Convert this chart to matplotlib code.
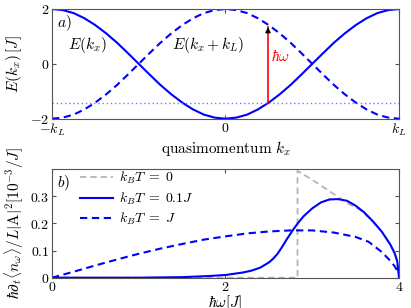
#!/usr/bin/env python3
"""
能带与吸收率示意图
上图: 两条能带 E(k_x), E(k_x + k_L)
下图: 不同温度下的吸收率
"""

import numpy as np
import matplotlib
matplotlib.use('Agg')
import matplotlib.pyplot as plt

plt.rcParams['mathtext.fontset'] = 'cm'
plt.rcParams['font.family'] = ['DejaVu Serif']
plt.rcParams['font.size'] = 10

# ---- 上图数据 (k_x 以 k_L 为单位) ----
k_band = [-1.0, -0.9375, -0.875, -0.8125, -0.75, -0.6875, -0.625, -0.5625, -0.5,
          -0.4375, -0.375, -0.3125, -0.25, -0.1875, -0.125, -0.0625, 0.0,
          0.0625, 0.125, 0.1875, 0.25, 0.3125, 0.375, 0.4375, 0.5,
          0.5625, 0.625, 0.6875, 0.75, 0.8125, 0.875, 0.9375, 1.0]
E_kx = [2.00, 1.96, 1.85, 1.66, 1.41, 1.11, 0.77, 0.39, 0.00,
        -0.39, -0.77, -1.11, -1.41, -1.66, -1.85, -1.96, -2.00,
        -1.96, -1.85, -1.66, -1.41, -1.11, -0.77, -0.39, 0.00,
        0.39, 0.77, 1.11, 1.41, 1.66, 1.85, 1.96, 2.00]
E_kx_kL = [-2.00, -1.96, -1.85, -1.66, -1.41, -1.11, -0.77, -0.39, 0.00,
           0.39, 0.77, 1.11, 1.41, 1.66, 1.85, 1.96, 2.00,
           1.96, 1.85, 1.66, 1.41, 1.11, 0.77, 0.39, 0.00,
           -0.39, -0.77, -1.11, -1.41, -1.66, -1.85, -1.96, -2.00]
fermi_level = -1.42
arrow_k = 0.245
arrow_top = 1.44

# ---- 下图数据 ----
w_T0 = [0.0, 2.83, 2.83, 3.0, 3.2, 3.4, 3.55, 3.7, 3.8, 3.9, 3.95, 3.98, 4.0]
rate_T0 = [0.0, 0.0, 0.393, 0.36, 0.318, 0.275, 0.25, 0.207, 0.170, 0.122, 0.09, 0.06, 0.0]

w_T01 = [0.0, 1.0, 1.5, 1.8, 2.0, 2.2, 2.3, 2.4, 2.5, 2.55, 2.6, 2.65, 2.7, 2.78,
         2.85, 2.9, 3.0, 3.1, 3.2, 3.3, 3.4, 3.5, 3.6, 3.7, 3.8, 3.9, 3.95, 3.98, 4.0]
rate_T01 = [0.0, 0.0, 0.002, 0.006, 0.010, 0.019, 0.026, 0.037, 0.056, 0.070, 0.088,
            0.112, 0.138, 0.177, 0.207, 0.226, 0.255, 0.277, 0.288, 0.289, 0.283,
            0.265, 0.24, 0.207, 0.170, 0.122, 0.09, 0.06, 0.0]

w_T1 = [0.0, 0.25, 0.5, 0.75, 1.0, 1.25, 1.5, 1.75, 2.0, 2.25, 2.5, 2.75, 3.0,
        3.25, 3.5, 3.65, 3.8, 3.9, 3.95, 4.0]
rate_T1 = [0.0, 0.022, 0.045, 0.067, 0.088, 0.107, 0.124, 0.140, 0.152, 0.163,
           0.170, 0.174, 0.174, 0.166, 0.150, 0.132, 0.095, 0.062, 0.042, 0.015]

BLUE = '#0000ff'
SPINE = '#555555'


def style_axes(ax):
    """统一坐标轴风格: 刻度向内, 四边都有"""
    for s in ax.spines.values():
        s.set_color(SPINE)
        s.set_linewidth(0.8)
    ax.tick_params(direction='in', length=3, width=0.8, color=SPINE,
                   top=True, right=True, pad=2, labelsize=10)


fig = plt.figure(figsize=(4.11, 3.08), dpi=100)
ax1 = fig.add_axes([0.1265, 0.6146, 0.8443, 0.3562])
ax2 = fig.add_axes([0.1265, 0.0984, 0.8443, 0.353])

# ---- 上图 ----
ax1.plot(k_band, E_kx, color=BLUE, lw=1.5)
ax1.plot(k_band, E_kx_kL, color=BLUE, lw=1.5, ls=(0, (3.5, 2.2)))
ax1.axhline(fermi_level, color='#7878ff', lw=1.0, ls=(0, (1, 2)))
ax1.plot([arrow_k, arrow_k], [fermi_level, arrow_top - 0.1], color='red', lw=1.2)
ax1.annotate('', xy=(arrow_k, arrow_top), xytext=(arrow_k, arrow_top - 0.35),
             arrowprops=dict(arrowstyle='-|>', color='k', lw=0.8, mutation_scale=8))
ax1.text(arrow_k + 0.02, 0.1, r'$\hbar\omega$', color='red', fontsize=11)
ax1.text(-0.795, 0.69, r'$E(k_x)$', ha='center', va='center', fontsize=11)
ax1.text(-0.10, 0.69, r'$E(k_x + k_L)$', ha='center', va='center', fontsize=11)
ax1.text(0.015, 0.96, r'$a)$', transform=ax1.transAxes, va='top', fontsize=11)

ax1.set_xlim(-1, 1)
ax1.set_ylim(-2, 2)
ax1.set_xticks([-1, 0, 1])
ax1.set_xticklabels([r'$-k_L$', r'$0$', r'$k_L$'])
ax1.set_yticks([-2, 0, 2])
ax1.set_yticklabels([r'$-2$', r'$0$', r'$2$'])
ax1.set_xlabel(r'$\mathrm{quasimomentum}\ k_x$', fontsize=11, labelpad=1)
ax1.set_ylabel(r'$E(k_x)\,[J]$', fontsize=11, labelpad=4)
style_axes(ax1)

# ---- 下图 ----
ax2.plot(w_T0, rate_T0, color='#b4b4b4', lw=1.3, ls=(0, (3.5, 2.2)),
         label=r'$k_BT\;=\;0$')
ax2.plot(w_T01, rate_T01, color=BLUE, lw=1.5, label=r'$k_BT\;=\;0.1J$')
ax2.plot(w_T1, rate_T1, color=BLUE, lw=1.5, ls=(0, (3.5, 2.2)),
         label=r'$k_BT\;=\;J$')
ax2.text(0.015, 0.96, r'$b)$', transform=ax2.transAxes, va='top', fontsize=11)
ax2.legend(loc='upper left', bbox_to_anchor=(0.08, 0.99), frameon=False,
           borderaxespad=0, borderpad=0, fontsize=10, handlelength=2.4,
           handletextpad=0.4, labelspacing=0.3)

ax2.set_xlim(0, 4)
ax2.set_ylim(0, 0.4)
ax2.set_xticks([0, 2, 4])
ax2.set_xticklabels([r'$0$', r'$2$', r'$4$'])
ax2.set_yticks([0, 0.1, 0.2, 0.3])
ax2.set_yticklabels([r'$0$', r'$0.1$', r'$0.2$', r'$0.3$'])
ax2.set_xlabel(r'$\hbar\omega[J]$', fontsize=11, labelpad=-1)
ax2.set_ylabel(r'$\hbar\partial_t\langle n_\omega\rangle/L|\mathrm{A}|^2[10^{-3}/J]$',
               fontsize=11, labelpad=3)
style_axes(ax2)

fig.savefig('out.png', dpi=100)
